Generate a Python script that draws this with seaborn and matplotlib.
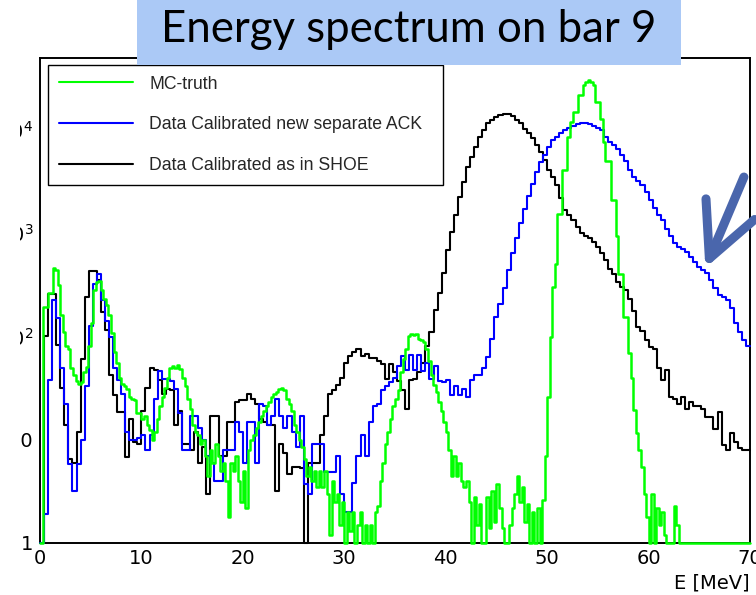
import numpy as np
import pandas as pd
import matplotlib
matplotlib.use("Agg")
import matplotlib.pyplot as plt
import seaborn as sns
from matplotlib.lines import Line2D
from matplotlib.patches import Rectangle
from matplotlib.ticker import LogLocator, MultipleLocator, NullFormatter

title = "Energy spectrum on bar 9"
x_label = "E [MeV]"
series_labels = ["MC-truth", "Data Calibrated new separate ACK", "Data Calibrated as in SHOE"]
series_colors = ["#00ff00", "#0000ff", "#000000"]
x_ticks = [0, 10, 20, 30, 40, 50, 60, 70]
x_tick_labels = ["0", "10", "20", "30", "40", "50", "60", "70"]
y_ticks = [1, 10, 100, 1000, 10000]
y_tick_labels = ["1", "10", r"$10^{2}$", r"$10^{3}$", r"$10^{4}$"]

# bin widths in MeV (data histograms / MC histogram), both starting at 0
data_bin_width = 0.4
mc_bin_width = 0.25

# counts per 0.4 MeV bin, calibration as in SHOE
shoe_counts = [
    0, 100, 260, 260, 83, 32, 14, 6.5, 6, 12,
    60, 240, 430, 430, 355, 173, 115, 42, 27, 18.5,
    18.5, 6.8, 16, 9.5, 9, 19, 32, 50, 47, 38,
    28, 31, 30, 14, 19, 9, 9, 8, 12, 6,
    8.5, 3, 17, 17, 7, 7, 15, 15, 23, 24,
    24, 28, 25, 22, 16, 15, 14, 14, 3.2, 9,
    7.5, 4.7, 5.5, 5.5, 5.3, 0, 6, 6, 6, 11,
    17, 28, 30, 34, 40, 55, 65, 70, 76, 64,
    68, 62, 62, 58, 54, 39, 54, 45, 37, 30,
    20, 38, 39, 45, 55, 80, 110, 180, 263, 410,
    690, 1030, 1490, 2230, 3130, 4400, 5500, 6900, 8600, 10000,
    11600, 12600, 13400, 14000, 14200, 14200, 13600, 12600, 11700, 10300,
    9300, 8300, 7100, 6100, 5100, 4050, 3500, 2900, 2170, 1660,
    1490, 1340, 1150, 1000, 950, 900, 820, 740, 640, 550,
    455, 405, 335, 300, 280, 233, 178, 123, 114, 92,
    79, 76, 49, 38, 47, 26, 25, 22, 26, 20,
    23, 21, 21, 20, 16.5, 16.5, 12.8, 18.6, 8.9, 7.9,
    11.5, 9.6, 8.3, 7.9, 7.9,
]

# counts per 0.4 MeV bin, new separate ACK calibration
ack_counts = [
    0, 1.9, 38, 225, 150, 50, 22, 5.8, 3.2, 5.8,
    10, 33, 125, 325, 400, 225, 140, 98, 49, 38,
    28, 12, 10, 10, 10.5, 11, 8, 11, 25, 46,
    39, 39, 37, 31, 18, 8, 8, 17, 17, 13,
    10, 7, 6, 4, 4, 8, 8, 8, 15, 12,
    6, 15, 15, 6, 22, 21, 14, 17, 25, 17,
    13, 17, 12, 8.5, 17, 3.7, 3, 9, 9, 9,
    4.9, 4.9, 4.9, 7, 3, 2, 2, 3.8, 7, 11,
    7, 15, 21, 22, 30, 33, 36, 40, 52, 65,
    47, 66, 47, 66, 46, 55, 39, 52, 37, 36,
    38, 27, 33, 27, 31, 26, 38, 42, 42, 50,
    63, 95, 153, 205, 296, 440, 640, 900, 1260, 1700,
    2300, 3000, 3900, 4900, 5700, 6900, 8000, 8600, 9400, 10000,
    10400, 10900, 11300, 11600, 11600, 11300, 10900, 10400, 10000, 8600,
    7700, 7200, 6600, 5700, 5000, 4100, 3500, 3200, 2900, 2500,
    2100, 1740, 1500, 1340, 1110, 930, 800, 740, 700, 660,
    590, 530, 475, 440, 410, 355, 295, 250, 240, 225,
    188, 135, 111, 92, 80,
]

# counts per 0.25 MeV bin, Monte Carlo truth
mc_counts = [
    0, 195, 195, 265, 265, 460, 440, 315, 160, 110,
    80, 76, 50, 42, 37, 35, 36, 45, 51, 80,
    134, 280, 340, 345, 280, 230, 200, 160, 107, 70,
    55, 40, 35, 33, 31, 26, 25, 24, 18, 18,
    16, 17, 14, 12.5, 10, 12, 16, 21, 26, 32,
    40, 49, 52, 50, 53, 48, 40, 33, 25, 20,
    14, 12, 11, 9, 10, 7, 4.5, 8, 6, 9,
    7, 5, 6, 4, 1.8, 6, 5, 7, 4, 2.5,
    5, 2.2, 8, 10, 11, 13, 15, 17, 19, 21,
    23, 26, 28, 29, 31, 32, 30, 25, 22, 19,
    14, 12, 10, 8.5, 6.5, 4.5, 5.5, 4, 5, 3.5,
    5, 3.5, 5, 3, 1.2, 4, 2.5, 3, 1.5, 2.5,
    1, 2, 1.3, 2, 0, 1.5, 2, 1, 1.5, 0,
    1.5, 1, 2, 2.3, 4, 6, 9, 12, 16, 21,
    25, 30, 45, 60, 76, 100, 106, 104, 106, 95,
    92, 88, 75, 58, 42, 34, 29, 23, 19, 15,
    12, 8, 4.5, 7, 4.5, 6, 4, 3.5, 4, 2.5,
    1, 2.8, 1.5, 2.4, 0, 0, 2.8, 1.4, 3.2, 1.6,
    3.7, 2.2, 1.4, 0, 0, 1.5, 2.2, 3, 4.5, 2.5,
    3.5, 1.6, 2.4, 0, 2, 1, 2.2, 0, 2.6, 7,
    26, 99, 300, 500, 1550, 1550, 4100, 4100, 8600, 12000,
    15000, 15000, 22000, 22000, 27000, 29000, 30400, 29000, 27000, 18600,
    18600, 12800, 7700, 5000, 5000, 2100, 2100, 930, 400, 400,
    155, 155, 69, 40, 19.5, 11.5, 8, 5.5, 3, 1.8,
    0, 3, 1, 2.2, 1.5, 2, 1.2, 0, 0, 0,
    2.3, 1.5, 0, 0, 0, 0, 0, 0, 0, 0,
    0, 0, 0, 0, 0, 0, 0, 0, 0, 0,
    0, 0, 0, 0, 0, 0, 0, 0, 0, 0,
]

sns.set_style("white")
plt.rcParams["font.family"] = ["DejaVu Sans"]
plt.rcParams["mathtext.fontset"] = "dejavusans"

W, H = 756, 595
fig = plt.figure(figsize=(W / 100, H / 100), dpi=100)
fig.patch.set_facecolor("white")
ax = fig.add_axes([40 / W, 1 - 543 / H, 710 / W, (543 - 57.5) / H])

y_floor = 1.0


def draw_hist(counts, width, color, lw):
    counts = np.asarray(counts, dtype=float)
    edges = [round(i * width, 4) for i in range(len(counts) + 1)]
    centers = [e + width / 2 for e in edges[:-1]]
    # empty bins sit on the frame floor, as in ROOT log plots
    frame = pd.DataFrame({"E": centers, "n": np.maximum(counts, y_floor)})
    sns.histplot(data=frame, x="E", weights="n", bins=edges, element="step",
                 fill=False, color=color, linewidth=lw, ax=ax, zorder=3,
                 clip_on=False)


draw_hist(shoe_counts, data_bin_width, series_colors[2], 1.5)
draw_hist(ack_counts, data_bin_width, series_colors[1], 1.5)
draw_hist(mc_counts, mc_bin_width, series_colors[0], 1.8)

ax.set_yscale("log")
ax.set_xlim(0, 70)
ax.set_ylim(1, 5.03e4)
ax.set_xticks(x_ticks, labels=x_tick_labels)
ax.xaxis.set_minor_locator(MultipleLocator(2))
ax.set_yticks(y_ticks, labels=y_tick_labels)
ax.yaxis.set_minor_locator(LogLocator(base=10, subs=np.arange(2, 10)))
ax.yaxis.set_minor_formatter(NullFormatter())
ax.tick_params(which="both", direction="in", width=0.8, colors="black",
               labelsize=14, labelcolor="black")
ax.tick_params(axis="x", which="major", length=10.8, pad=4)
ax.tick_params(axis="x", which="minor", length=5.4)
ax.tick_params(axis="y", which="major", length=14.4, pad=5)
ax.tick_params(axis="y", which="minor", length=7.2)
ax.set_ylabel("")
ax.set_xlabel(x_label, loc="right", fontsize=14, labelpad=4, color="black")
for spine in ax.spines.values():
    spine.set_visible(True)
    spine.set_linewidth(1.4)
    spine.set_color("black")

handles = [Line2D([], [], color=c, lw=1.5) for c in series_colors]
leg = ax.legend(handles, series_labels, loc="upper left",
                bbox_to_anchor=(48 / W, 1 - 65 / H, (443 - 48) / W, 0.0),
                bbox_transform=fig.transFigure, mode="expand", borderaxespad=0,
                frameon=True, fancybox=False, edgecolor="black", framealpha=1,
                borderpad=0.6, labelspacing=1.35, handlelength=4.2,
                handletextpad=0.95,
                prop={"family": "Liberation Sans", "size": 12.7})
leg.get_frame().set_linewidth(1.0)
leg.set_zorder(5)

# arrow pointing at the ACK tail
ax.annotate("", xy=(65.6, 461), xytext=(69.4, 3500),
            arrowprops=dict(arrowstyle="->,head_length=1.93,head_width=0.95",
                            mutation_scale=20, lw=6.5, color="#4a66ac",
                            capstyle="round", joinstyle="round",
                            shrinkA=0, shrinkB=0, clip_on=False),
            annotation_clip=False)

# left margin cut
fig.add_artist(Rectangle((0, 0), 20 / W, 1, transform=fig.transFigure,
                         facecolor="white", edgecolor="none", zorder=10))

# title banner
fig.add_artist(Rectangle((137 / W, 1 - 65 / H), (681 - 137) / W, 65 / H,
                         transform=fig.transFigure, facecolor="#abc9f6",
                         edgecolor="none", zorder=10))
fig.text(409 / W, 1 - 30 / H, title, ha="center", va="center",
         fontsize=31.5, family="Lato", color="black", zorder=11)

fig.savefig("out.png", dpi=100)
